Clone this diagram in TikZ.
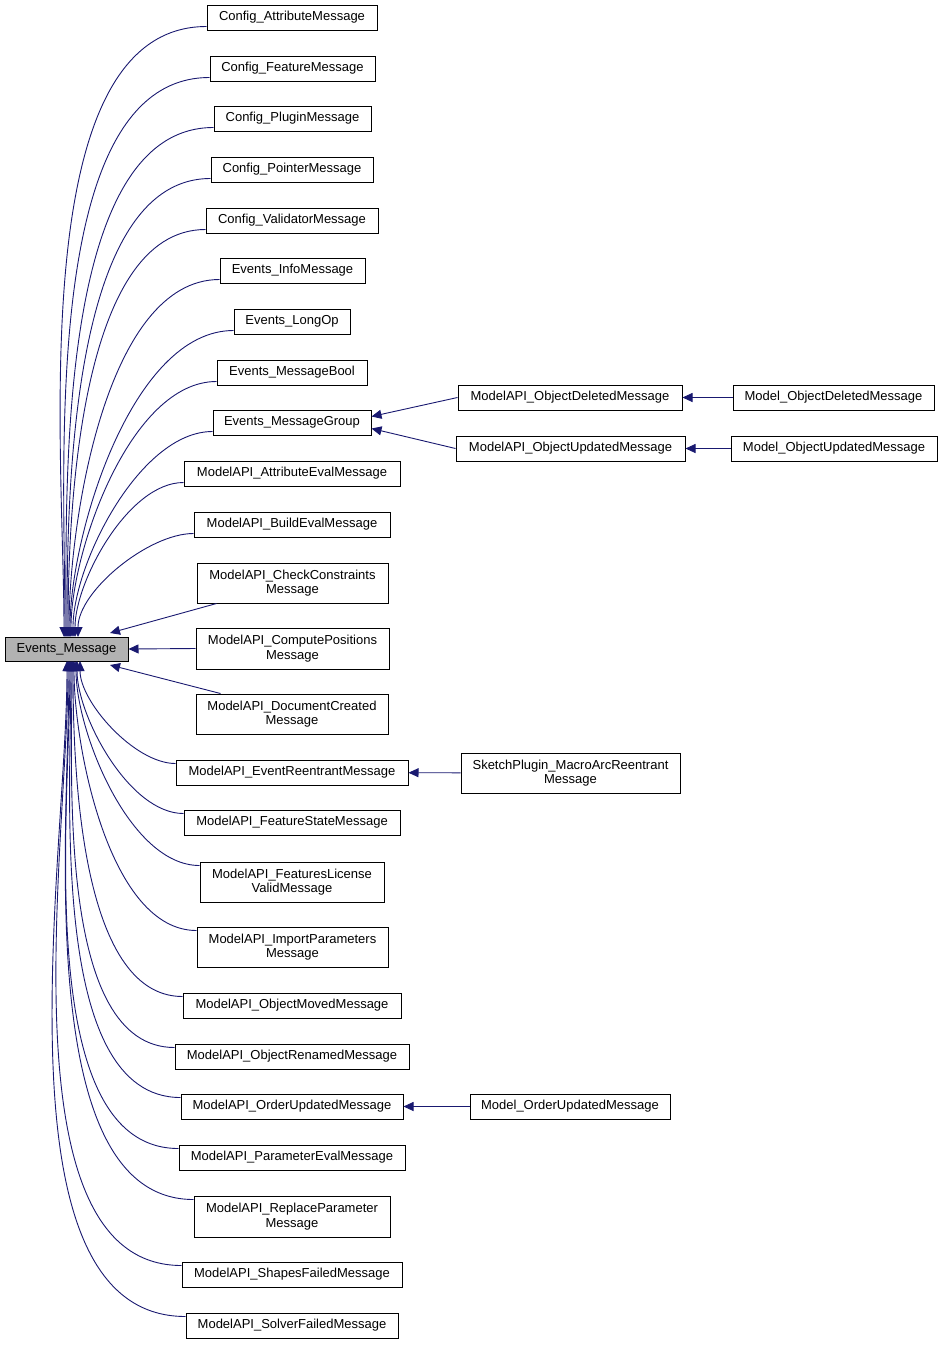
\documentclass[tikz,border=0pt]{standalone}
\usepackage{fontspec}
\setmainfont{Liberation Sans}
\usetikzlibrary{arrows.meta,calc}
\definecolor{edgeblue}{HTML}{191970}
\begin{document}
\begin{tikzpicture}[x=1pt,y=-1pt,
 box/.style={draw=black,fill=white,line width=1pt,inner sep=0pt,align=center,font=\fontsize{13}{14.5}\selectfont},
 edge/.style={draw=edgeblue,line width=0.9pt,-{Triangle[width=9pt,length=10pt]}}]
\useasboundingbox (0,0) rectangle (941,1345);
\newcommand\bx[6]{\node[box,minimum width=#4pt-#3pt,minimum height=#6pt-#5pt] (#1) at ({(#3+#4)/2},{(#5+#6)/2}) {#2};}
\node[box,fill=black!30,minimum width=123pt,minimum height=24pt] (em) at (66.5,649) {Events\_Message};
\bx{c1}{Config\_AttributeMessage}{207}{377}{5}{30}
\bx{c2}{Config\_FeatureMessage}{210}{375}{56}{81}
\bx{c3}{Config\_PluginMessage}{214}{371}{106}{131}
\bx{c4}{Config\_PointerMessage}{211}{373}{157}{182}
\bx{c5}{Config\_ValidatorMessage}{206}{378}{208}{233}
\bx{c6}{Events\_InfoMessage}{220}{365}{258}{283}
\bx{c7}{Events\_LongOp}{234}{350}{309}{334}
\bx{c8}{Events\_MessageBool}{217}{367}{360}{385}
\bx{c9}{Events\_MessageGroup}{213}{371}{410}{435}
\bx{c10}{ModelAPI\_AttributeEvalMessage}{184}{400}{461}{486}
\bx{c11}{ModelAPI\_BuildEvalMessage}{194}{390}{512}{537}
\bx{c12}{ModelAPI\_CheckConstraints\\Message}{197}{388}{563}{603}
\bx{c13}{ModelAPI\_ComputePositions\\Message}{196}{389}{628}{669}
\bx{c14}{ModelAPI\_DocumentCreated\\Message}{196}{388}{694}{734}
\bx{c15}{ModelAPI\_EventReentrantMessage}{176}{408}{760}{785}
\bx{c16}{ModelAPI\_FeatureStateMessage}{184}{400}{810}{835}
\bx{c17}{ModelAPI\_FeaturesLicense\\ValidMessage}{200}{384}{862}{902}
\bx{c18}{ModelAPI\_ImportParameters\\Message}{197}{388}{927}{967}
\bx{c19}{ModelAPI\_ObjectMovedMessage}{183}{401}{993}{1018}
\bx{c20}{ModelAPI\_ObjectRenamedMessage}{175}{409}{1044}{1069}
\bx{c21}{ModelAPI\_OrderUpdatedMessage}{181}{403}{1094}{1119}
\bx{c22}{ModelAPI\_ParameterEvalMessage}{179}{405}{1145}{1170}
\bx{c23}{ModelAPI\_ReplaceParameter\\Message}{194}{390}{1196}{1237}
\bx{c24}{ModelAPI\_ShapesFailedMessage}{182}{402}{1262}{1287}
\bx{c25}{ModelAPI\_SolverFailedMessage}{186}{398}{1313}{1338}
\bx{d1}{ModelAPI\_ObjectDeletedMessage}{458}{682}{385}{410}
\bx{d2}{ModelAPI\_ObjectUpdatedMessage}{456}{685}{436}{461}
\bx{e1}{Model\_ObjectDeletedMessage}{733}{934}{385}{410}
\bx{e2}{Model\_ObjectUpdatedMessage}{731}{937}{436}{461}
\bx{f1}{SketchPlugin\_MacroArcReentrant\\Message}{461}{680}{753}{793}
\bx{g1}{Model\_OrderUpdatedMessage}{470}{670}{1094}{1119}
\foreach \n/\t in {c1/64,c2/65,c3/66,c4/67,c5/68,c6/69,c7/70,c8/71,c9/73,c10/75,c11/78}
  \draw[edge] ($(\n.south west)+(0,-4)$) to[out=180,in=90,looseness=0.75] (\t,637);
\draw[edge] ($(c12.south west)+(20,0)$) -- (110,633);
\draw[edge] (c13.west) -- (em.east);
\draw[edge] ($(c14.north west)+(25,0)$) -- (110,665);
\foreach \n/\t in {c15/80,c16/77,c17/76,c18/74,c19/73,c20/72,c21/71,c22/70,c23/69,c24/68,c25/67}
  \draw[edge] ($(\n.north west)+(0,4)$) to[out=180,in=-90,looseness=0.75] (\t,661);
\draw[edge] (d1.west) -- ($(c9.east)+(0,-6)$);
\draw[edge] (d2.west) -- ($(c9.east)+(0,6)$);
\draw[edge] (e1) -- (d1);
\draw[edge] (e2) -- (d2);
\draw[edge] (f1) -- (c15);
\draw[edge] (g1) -- (c21);
\end{tikzpicture}
\end{document}
